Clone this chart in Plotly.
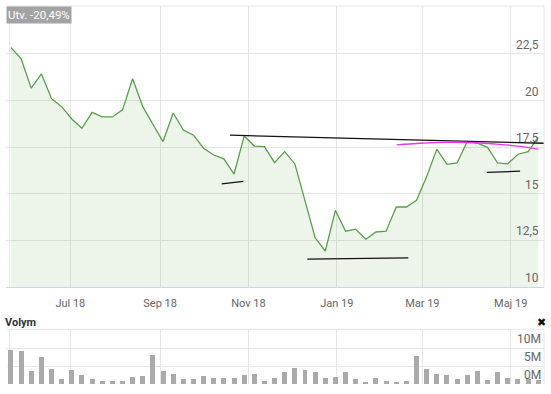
import plotly.graph_objects as go
import pandas as pd

# ---- data ----
dates = pd.date_range("2018-05-21", periods=53, freq="7D")
close = [22.84, 22.25, 20.66, 21.43, 20.10, 19.67, 19.01, 18.51, 19.37, 19.12,
         19.12, 19.50, 21.17, 19.67, 18.73, 17.80, 19.33, 18.42, 18.14, 17.44,
         17.08, 16.87, 16.05, 18.10, 17.56, 17.53, 16.67, 17.26, 16.60, 14.67,
         12.64, 11.93, 14.11, 12.99, 13.10, 12.56, 12.95, 12.99, 14.29, 14.29,
         14.65, 15.92, 17.39, 16.58, 16.65, 17.81, 17.71, 17.49, 16.65, 16.60,
         17.12, 17.26, 18.02]
volume_m = [9.52, 9.24, 3.45, 7.37, 4.20, 1.40, 3.92, 2.52, 1.40, 0.84,
            0.84, 0.84, 1.96, 2.24, 8.12, 3.45, 2.80, 1.40, 1.40, 2.24,
            1.68, 1.68, 1.68, 2.52, 2.80, 0.84, 1.68, 3.17, 4.48, 3.92,
            3.17, 1.68, 1.96, 3.17, 1.40, 0.56, 1.68, 0.84, 0.56, 0.84,
            7.65, 4.20, 2.80, 2.52, 1.40, 2.52, 3.45, 1.12, 3.17, 1.60,
            1.40, 1.40, 1.00]

# drawn trend lines (start/end dates and values)
trend_black = [
    (["2018-10-19 05:00", "2019-05-24 00:00"], [18.14, 17.71]),
    (["2018-10-13 12:00", "2018-10-28 10:00"], [15.53, 15.67]),
    (["2018-12-11 14:00", "2019-02-19 08:00"], [11.50, 11.56]),
    (["2019-04-14 12:00", "2019-05-07 12:00"], [16.15, 16.21]),
]
arc_dates = ["2019-02-11 08:00", "2019-02-27 10:00", "2019-03-17 19:00",
             "2019-04-02 22:00", "2019-04-23 14:00", "2019-05-07 12:00",
             "2019-05-20 02:00"]
arc_values = [17.62, 17.71, 17.76, 17.75, 17.65, 17.54, 17.39]

tick_dates = ["2018-05-20 08:00", "2018-07-01", "2018-09-01", "2018-11-01",
              "2019-01-01", "2019-03-01", "2019-05-01"]
tick_text = ["", "Jul 18", "Sep 18", "Nov 18", "Jan 19", "Mar 19", "Maj 19"]
price_ticks = [10, 12.5, 15, 17.5, 20, 22.5]
price_tick_text = ["10", "12,5", "15", "17,5", "20", "22,5"]
volume_ticks = [0, 5, 10]
volume_tick_text = ["0M", "5M", "10M"]
change_label = "Utv. -20,49%"
volume_title = "Volym"

# ---- figure ----
GRID = "#e6e6e6"
LABEL = "#666666"
FONT = "Roboto, Arial, sans-serif"

fig = go.Figure()

fig.add_trace(go.Scatter(
    x=dates, y=close, mode="lines", fill="tozeroy",
    line=dict(color="#5a9f4a", width=1.3),
    fillcolor="rgba(90,160,70,0.11)",
    xaxis="x", yaxis="y", hoverinfo="skip", showlegend=False))

for xs, ys in trend_black:
    fig.add_trace(go.Scatter(
        x=xs, y=ys, mode="lines", line=dict(color="#111111", width=1.3),
        xaxis="x", yaxis="y", hoverinfo="skip", showlegend=False))

fig.add_trace(go.Scatter(
    x=arc_dates, y=arc_values, mode="lines", line=dict(color="#ee33ee", width=1.3, shape="spline"),
    xaxis="x", yaxis="y", hoverinfo="skip", showlegend=False))

fig.add_trace(go.Bar(
    x=dates, y=volume_m, marker=dict(color="#aaaaaa", line=dict(width=0)),
    width=3.45 * 86400000, xaxis="x2", yaxis="y2", hoverinfo="skip", showlegend=False))

xr = ["2018-05-17 14:00", "2019-05-24 00:00"]
common_x = dict(
    type="date", range=xr, tickvals=tick_dates, showgrid=True, gridcolor=GRID,
    gridwidth=1, zeroline=False, fixedrange=True, automargin=False,
)

fig.update_layout(
    width=551, height=394,
    margin=dict(l=6, r=7, t=6, b=10),
    paper_bgcolor="white", plot_bgcolor="white",
    separators=",.",
    font=dict(family=FONT, size=11, color=LABEL),
    bargap=0,
    xaxis=dict(**common_x, ticktext=tick_text, anchor="y",
               showline=True, linecolor="#ccd6eb", linewidth=1,
               ticks="outside", ticklen=6, tickcolor="rgba(0,0,0,0)",
               tickfont=dict(size=11, color=LABEL)),
    yaxis=dict(domain=[0.2566, 1.0], range=[10, 25.07], side="right",
               tickvals=price_ticks, showticklabels=False, automargin=False,
               showgrid=True, gridcolor=GRID, zeroline=False, ticks=""),
    xaxis2=dict(**common_x, ticktext=[""] * len(tick_dates), anchor="y2",
                showticklabels=False, matches="x"),
    yaxis2=dict(domain=[0.0, 0.1447], range=[0, 15.3], side="right",
                tickvals=volume_ticks, showticklabels=False, automargin=False,
                showgrid=True, gridcolor=GRID, zeroline=False, ticks="", anchor="x2"),
)

# right-aligned tick labels sitting just above their grid lines
for v, t in zip(price_ticks, price_tick_text):
    fig.add_annotation(text=t, xref="paper", yref="y", x=0.994, y=v,
                       xanchor="right", yanchor="bottom", showarrow=False,
                       font=dict(family=FONT, size=12, color=LABEL))
for v, t in zip(volume_ticks, volume_tick_text):
    fig.add_annotation(text=t, xref="paper", yref="y2", x=0.998, y=v,
                       xanchor="right", yanchor="bottom", showarrow=False,
                       font=dict(family=FONT, size=12, color=LABEL))

# borders (top and right) of both panels
for yref in ["y domain", "y2 domain"]:
    fig.add_shape(type="line", xref="paper", yref=yref, x0=0, x1=1, y0=1, y1=1,
                  line=dict(color=GRID, width=1))
    fig.add_shape(type="line", xref="paper", yref=yref, x0=1, x1=1, y0=0, y1=1,
                  line=dict(color=GRID, width=1))

fig.add_annotation(
    text=change_label, xref="paper", yref="paper", x=0, y=1,
    xanchor="left", yanchor="top", showarrow=False,
    bgcolor="#a3a3a3", borderpad=1,
    font=dict(family=FONT, size=11.5, color="white"))

fig.add_annotation(
    text=volume_title, xref="paper", yref="paper", x=-0.006, y=0.164,
    xanchor="left", yanchor="middle", showarrow=False,
    font=dict(family=FONT, size=11, color="#333333", weight="bold"))

fig.add_annotation(
    text="✖", xref="paper", yref="paper", x=0.995, y=0.164,
    xanchor="center", yanchor="middle", showarrow=False,
    font=dict(family="DejaVu Sans", size=11, color="#111111"))

fig.write_html("out.html", config={"displayModeBar": False},
               post_script="document.body.style.margin='0';")
